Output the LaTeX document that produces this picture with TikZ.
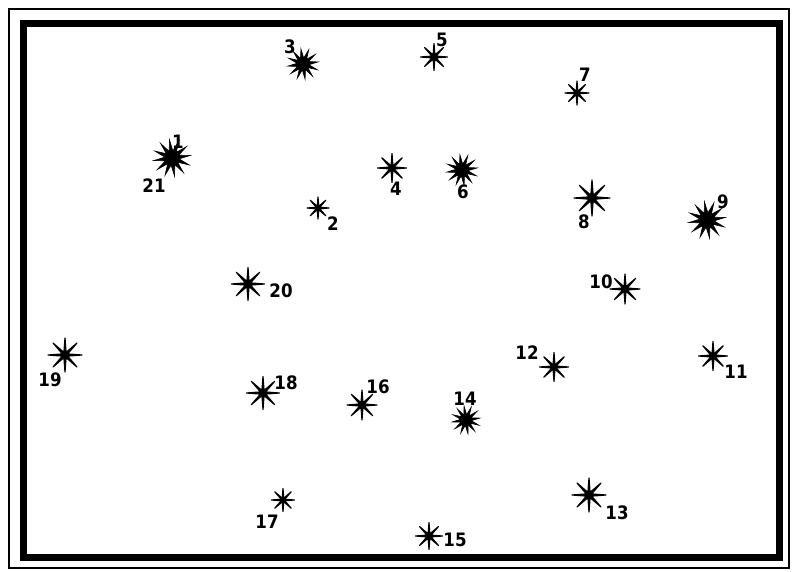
\documentclass[tikz,border=0pt]{standalone}
\usepackage{fontspec}
\setmainfont{DejaVu Sans Condensed}
\usepackage{tikz}
\usetikzlibrary{shapes.geometric}

\begin{document}
\begin{tikzpicture}[
          x=1pt, y=-1pt,
          ast/.style={star, star points=8, star point ratio=6, fill=black, draw=black, line width=1.2pt, line join=round, inner sep=0pt, minimum size=#1},
          ast/.default=28pt,
          burst/.style={star, star points=12, star point ratio=2.6, fill=black, draw=black, line width=0.6pt, inner sep=0pt, minimum size=#1, rotate=8},
          burst/.default=30pt,
          lbl/.style={font=\fontsize{18.5}{18.5}\selectfont\bfseries, inner sep=0pt}
        ]
        \useasboundingbox (0,0) rectangle (792,571);
        % frames
        \draw[line width=1.5pt] (9,9) rectangle (789,568);
        \draw[line width=7pt] (23.5,23.5) rectangle (779,557.5);
        % stars
        \node[burst=37pt] (s1) at (172,158) {};
        \node[ast=22pt] (s2) at (318,208) {};
        \node[burst=31pt] (s3) at (303,64) {};
        \node[ast=29pt] (s4) at (392,168) {};
        \node[ast=27pt] (s5) at (434,57) {};
        \node[burst=31pt] (s6) at (462,170) {};
        \node[ast=24pt] (s7) at (577,93) {};
        \node[ast=36pt] (s8) at (592,198) {};
        \node[burst=37pt] (s9) at (707,220) {};
        \node[ast=30pt] (s10) at (625,289) {};
        \node[ast=29pt] (s11) at (713,356) {};
        \node[ast=29pt] (s12) at (554,367) {};
        \node[ast=34pt] (s13) at (589,495) {};
        \node[burst=28pt] (s14) at (466,420) {};
        \node[ast=27pt] (s15) at (429,536) {};
        \node[ast=30pt] (s16) at (362,405) {};
        \node[ast=23pt] (s17) at (283,500) {};
        \node[ast=33pt] (s18) at (263,393) {};
        \node[ast=34pt] (s19) at (65,355) {};
        \node[ast=33pt] (s20) at (248,284) {};
        % labels
        \node[lbl] (l1) at (178,142) {1};
        \node[lbl] (l21) at (154,186) {21};
        \node[lbl] (l2) at (333,224) {2};
        \node[lbl] (l3) at (290,47) {3};
        \node[lbl] (l4) at (396,189) {4};
        \node[lbl] (l5) at (442,40) {5};
        \node[lbl] (l6) at (463,192) {6};
        \node[lbl] (l7) at (585,75) {7};
        \node[lbl] (l8) at (584,222) {8};
        \node[lbl] (l9) at (723,202) {9};
        \node[lbl] (l10) at (601,282) {10};
        \node[lbl] (l11) at (736,372) {11};
        \node[lbl] (l12) at (527,353) {12};
        \node[lbl] (l13) at (617,513) {13};
        \node[lbl] (l14) at (465,399) {14};
        \node[lbl] (l15) at (455,540) {15};
        \node[lbl] (l16) at (378,387) {16};
        \node[lbl] (l17) at (267,522) {17};
        \node[lbl] (l18) at (286,383) {18};
        \node[lbl] (l19) at (50,380) {19};
        \node[lbl] (l20) at (281,291) {20};
      \end{tikzpicture}
\end{document}
